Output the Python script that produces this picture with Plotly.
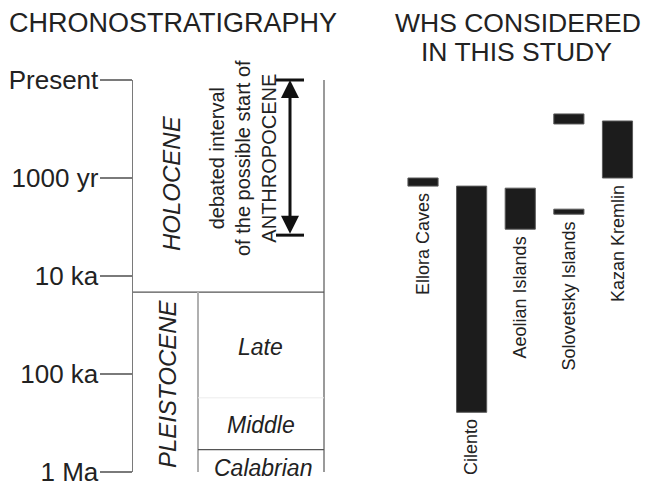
import math
import plotly.graph_objects as go

# ---------------- data (ages in years before present) ----------------
tick_vals = [100, 1000, 10000, 100000, 1000000]
tick_text = ["Present", "1000 yr", "10 ka", "100 ka", "1 Ma"]

age_top = 100            # "Present"
age_bottom = 1000000     # 1 Ma
holocene_base = 14600
late_base = 175000
middle_base = 590000
anthropocene_interval = [100, 3830]

site_names = ["Ellora Caves", "Cilento", "Aeolian Islands",
              "Solovetsky Islands", "Kazan Kremlin"]
bar_site = ["Ellora Caves", "Cilento", "Aeolian Islands",
            "Solovetsky Islands", "Solovetsky Islands", "Kazan Kremlin"]
bar_young = [1000, 1210, 1270, 222, 2080, 262]
bar_old = [1210, 246000, 3330, 281, 2340, 1000]

# ---------------- styling ----------------
FONT = "Liberation Sans, Arial, sans-serif"
TXT = "#222222"
W, H = 648, 482
ML, MR, MT, MB = 133, 0, 80, 10
PW = W - ML - MR
PH = H - MT - MB

fig = go.Figure()

# left panel frame lines (x in panel units, 0..200)
X_IN, X_R = 65, 191


def seg(x, y, color, width):
    fig.add_trace(go.Scatter(x=x, y=y, mode="lines", xaxis="x", yaxis="y",
                             line=dict(color=color, width=width),
                             hoverinfo="skip", showlegend=False))


seg([X_R, X_R], [age_top, age_bottom], "#9a9a9a", 2)
seg([0, X_R], [holocene_base, holocene_base], "#555555", 1.3)
seg([X_IN, X_IN], [holocene_base, age_bottom], "#b0b0b0", 2)
seg([X_IN, X_R], [late_base, late_base], "#ececec", 1)
seg([X_IN, X_R], [middle_base, middle_base], "#555555", 1.2)

# arrow caps
ARX = 157
fig.add_trace(go.Scatter(x=[ARX, ARX], y=anthropocene_interval, mode="markers",
                         xaxis="x", yaxis="y", cliponaxis=False,
                         marker=dict(symbol="line-ew", size=20,
                                     line=dict(color="#111111", width=3)),
                         hoverinfo="skip", showlegend=False))

# WHS bars
fig.add_trace(go.Bar(x=bar_site, base=bar_young,
                     y=[o - y for o, y in zip(bar_old, bar_young)],
                     xaxis="x2", yaxis="y", width=0.62,
                     marker=dict(color="#1c1c1c", line=dict(color="#5a5a5a", width=1)),
                     hoverinfo="skip", showlegend=False))

ann = []


def py(ypx):  # page pixel y -> paper y
    return (H - MB - ypx) / PH


def px(xpx):  # page pixel x -> paper x
    return (xpx - ML) / PW


# titles
ann.append(dict(text="CHRONOSTRATIGRAPHY", xref="paper", yref="paper",
                x=px(7), y=py(23), xanchor="left", yanchor="middle", showarrow=False,
                font=dict(family=FONT, size=27, color=TXT)))
ann.append(dict(text="WHS CONSIDERED", xref="paper", yref="paper",
                x=px(518), y=py(23), xanchor="center", yanchor="middle",
                showarrow=False, font=dict(family=FONT, size=26.5, color=TXT)))
ann.append(dict(text="IN THIS STUDY", xref="paper", yref="paper",
                x=px(516), y=py(52), xanchor="center", yanchor="middle",
                showarrow=False, font=dict(family=FONT, size=26.5, color=TXT)))


def lab(text, x, ypx, size, italic=True, angle=0):
    ylog = 2 + (ypx - MT) / (PH / 4)
    ann.append(dict(text=text, xref="x", yref="y", x=x, y=ylog, showarrow=False,
                    textangle=angle, xanchor="center", yanchor="middle", align="center",
                    font=dict(family=FONT, size=size, color=TXT,
                              style="italic" if italic else "normal")))


lab("HOLOCENE", 38, 183, 24, angle=-90)
lab("PLEISTOCENE", 34, 384, 24, angle=-90)
lab("Late", 127, 347, 23)
lab("Middle", 128, 425, 23)
lab("Calabrian", 130, 468, 23)
lab("debated interval<br>of the possible start of<br>ANTHROPOCENE", 110, 158, 20,
    italic=False, angle=-90)

# double-headed arrow
ann.append(dict(text="", xref="x", yref="y", axref="x", ayref="y",
                x=ARX, y=math.log10(anthropocene_interval[0]),
                ax=ARX, ay=math.log10(anthropocene_interval[1]),
                showarrow=True, arrowhead=2, startarrowhead=2, arrowside="end+start",
                arrowwidth=3, arrowsize=1.2, startarrowsize=1.2, arrowcolor="#111111",
                standoff=0, startstandoff=0))

# site labels under each site's oldest bar
for name in site_names:
    oldest = max(o for s, o in zip(bar_site, bar_old) if s == name)
    ann.append(dict(text=name, xref="x2", yref="y", x=name, y=math.log10(oldest),
                    showarrow=False, textangle=-90, xanchor="center", yanchor="top",
                    yshift=-5, font=dict(family=FONT, size=18, color=TXT)))

fig.update_layout(
    width=W, height=H, margin=dict(l=ML, r=MR, t=MT, b=MB, autoexpand=False),
    paper_bgcolor="white", plot_bgcolor="white",
    font=dict(family=FONT, color=TXT),
    showlegend=False, bargap=0,
    xaxis=dict(domain=[0, 200 / PW], range=[0, 200], visible=False, fixedrange=True,
               automargin=False),
    xaxis2=dict(domain=[px(398.7), px(641.8)], range=[-0.5, 4.5],
                type="category", categoryorder="array", categoryarray=site_names,
                visible=False, anchor="y", automargin=False),
    yaxis=dict(type="log", range=[6, 2], tickvals=tick_vals, ticktext=tick_text,
               ticks="outside", ticklen=32, tickwidth=1.5, tickcolor="#7a7a7a",
               showline=True, linecolor="#7a7a7a", linewidth=1.5,
               showgrid=False, zeroline=False, anchor="x", automargin=False,
               tickfont=dict(family=FONT, size=26, color=TXT), ticklabelstandoff=-4,
               ticklabeloverflow="allow"),
    annotations=ann,
)

fig.write_html(
    "out.html",
    config={"displayModeBar": False, "staticPlot": True},
    post_script=("document.body.style.margin='0';"
                 "document.body.style.overflow='hidden';"
                 "document.documentElement.style.overflow='hidden';"
                 "document.querySelectorAll('.plotly-graph-div').forEach("
                 "function(d){d.style.overflow='hidden';});"),
)
